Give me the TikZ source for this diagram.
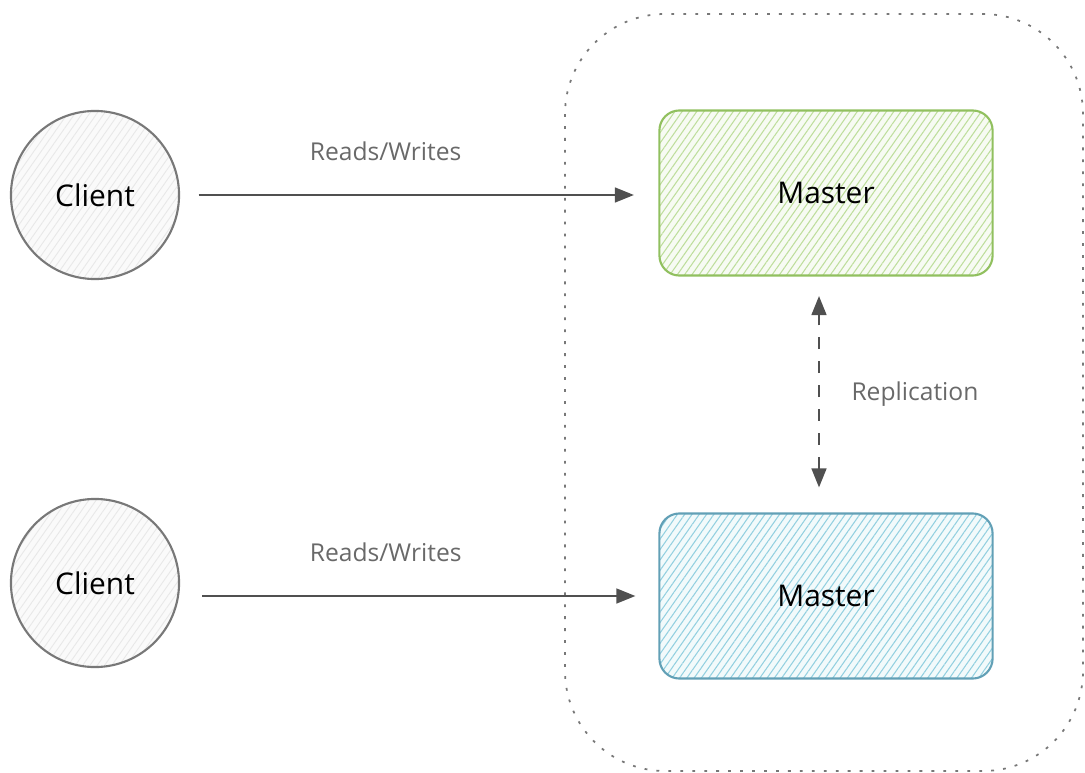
\documentclass[tikz,border=0pt]{standalone}
\usepackage{fontspec}
\setmainfont{Open Sans}
\usepackage{xcolor}
\definecolor{inkgray}{RGB}{80,80,80}
\definecolor{labelgray}{RGB}{105,105,105}
\definecolor{rimgray}{RGB}{120,120,120}
\definecolor{mastergreen}{RGB}{145,192,95}
\definecolor{hatchgreen}{RGB}{178,216,138}
\definecolor{masterblue}{RGB}{98,160,182}
\definecolor{hatchblue}{RGB}{128,200,218}
\usepackage{tikz}
\usetikzlibrary{arrows.meta,positioning,patterns.meta}

\begin{document}
\begin{tikzpicture}[x=0.01cm, y=-0.01cm,
    client/.style={circle, draw=rimgray, line width=0.6pt, minimum size=1.68cm,
        preaction={fill=gray!4}, pattern={Lines[angle=55,distance=1.7pt,line width=0.25pt]},
        pattern color=gray!18, font=\fontsize{8.5}{10}\selectfont},
    master/.style={rectangle, rounded corners=0.2cm, line width=0.6pt,
        minimum width=3.33cm, minimum height=1.65cm,
        font=\fontsize{8.5}{10}\selectfont},
    flow/.style={inkgray, line width=0.45pt, -{Triangle[length=0.19cm, width=0.15cm]}},
    sync/.style={inkgray, line width=0.45pt, dash pattern=on 3.4pt off 3.4pt,
        {Triangle[length=0.19cm, width=0.15cm]}-{Triangle[length=0.19cm, width=0.15cm]}},
    edgelabel/.style={text=labelgray, font=\fontsize{7}{8}\selectfont}]
    \useasboundingbox (0,0) rectangle (1085,773);

    % Cluster boundary
    \draw[rimgray, line width=0.5pt, dash pattern=on 0.8pt off 2.6pt, rounded corners=1cm]
        (565,14) rectangle (1083,771);

    % Clients
    \node[client] (client1) at (95,195) {Client};
    \node[client] (client2) at (95,583) {Client};

    % Masters
    \node[master, draw=mastergreen, preaction={fill=hatchgreen!10},
        pattern={Lines[angle=55,distance=1.7pt,line width=0.3pt]}, pattern color=hatchgreen!85]
        (master1) at (826,193) {Master};
    \node[master, draw=masterblue, preaction={fill=hatchblue!10},
        pattern={Lines[angle=55,distance=1.7pt,line width=0.3pt]}, pattern color=hatchblue!85]
        (master2) at (826,596) {Master};

    % Reads and writes
    \draw[flow, shorten <=0.19cm, shorten >=0.25cm] (client1.east) -- (client1.east -| master1.west)
        node[edgelabel, pos=0.43, above=0.22cm] {Reads/Writes};
    \draw[flow, shorten <=0.22cm, shorten >=0.23cm] (client2.east |- master2.west) -- (master2.west)
        node[edgelabel, pos=0.43, above=0.22cm] {Reads/Writes};

    % Replication between masters
    \draw[sync, shorten <=0.25cm, shorten >=0.2cm] ([xshift=-0.07cm]master2.north) -- ([xshift=-0.07cm]master1.south)
        node[edgelabel, midway, right=0.2cm] {Replication};
\end{tikzpicture}
\end{document}
